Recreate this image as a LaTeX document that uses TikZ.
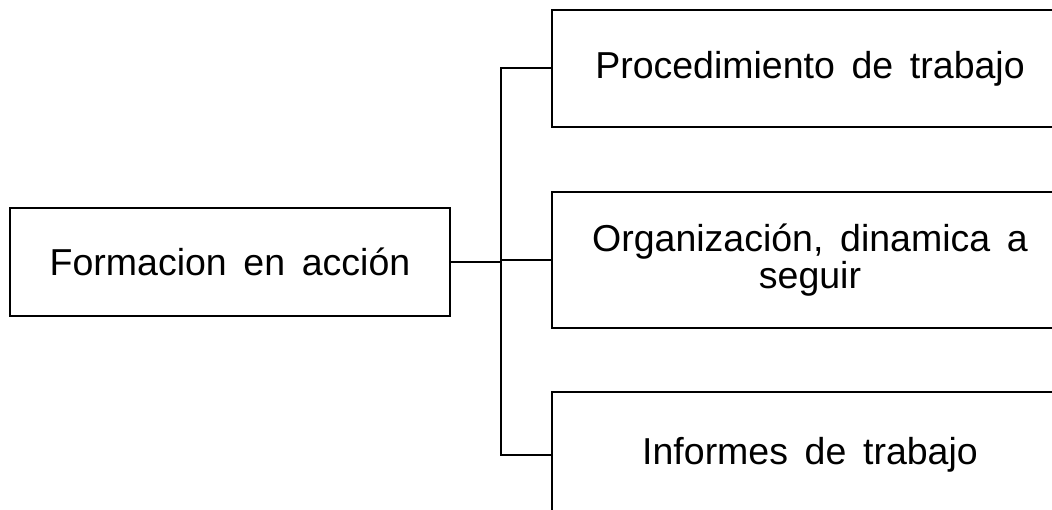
\documentclass[tikz,border=0pt]{standalone}
\usepackage{fontspec}
\setmainfont{Liberation Sans}[WordSpace=1.6]
\begin{document}
\begin{tikzpicture}[x=1pt,y=1pt,
  box/.style={draw=black, line width=2pt, rectangle, inner sep=0pt, align=center,
    font=\fontsize{37.5}{37}\selectfont},
  link/.style={draw=black, line width=2pt}]
\useasboundingbox (0,-510) rectangle (1052,0);
\clip (0,-510) rectangle (1052,0);
% root box
\node[box, minimum width=440, minimum height=108] (root) at (230,-262) {Formacion en acción};
% branch boxes (extending past the right and bottom edges)
\node[box, minimum width=516, minimum height=117] (b1) at (810,-68.5) {Procedimiento de trabajo};
\node[box, minimum width=516, minimum height=136] (b2) at (810,-260) {Organización, dinamica a\\seguir};
\node[box, minimum width=516, minimum height=126] (b3) at (810,-455) {Informes de trabajo};
% connectors
\coordinate (trunk) at (501,-262);
\draw[link] (root.east) -- (root.east -| trunk);
\draw[link] (b1.west) -| (trunk) |- (b3.west);
\draw[link] (trunk |- b2.west) -- (b2.west);
\end{tikzpicture}
\end{document}
